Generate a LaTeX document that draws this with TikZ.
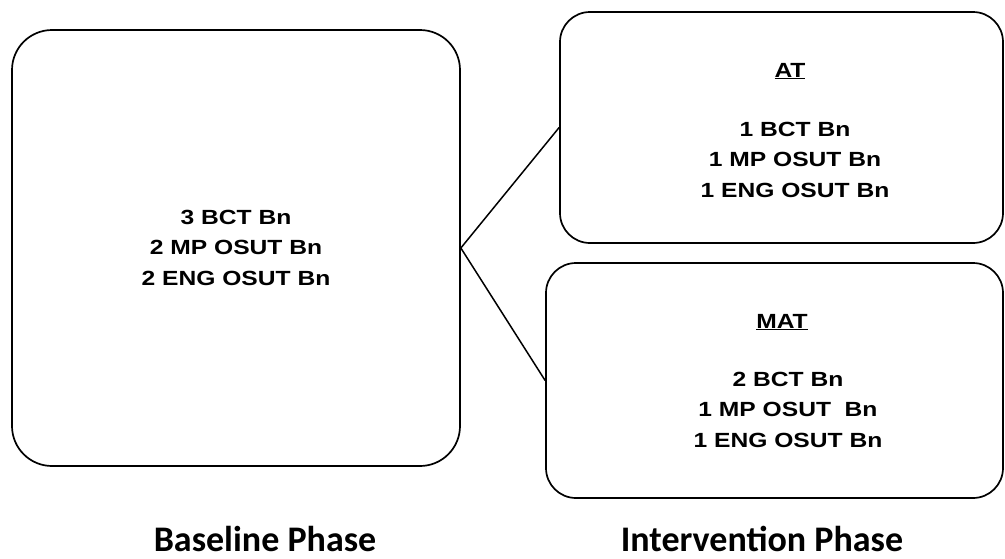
\documentclass[tikz,border=0pt]{standalone}
\usepackage{fontspec}
\setmainfont{Liberation Sans}
\newfontfamily\boxfont[FakeStretch=1.2]{Liberation Sans}
\newfontfamily\phasefont{Carlito}
\begin{document}
\begin{tikzpicture}[x=1pt,y=-1pt,
  phasebox/.style={draw=black,line width=1.7pt,rounded corners=#1,inner sep=0pt},
  unitlist/.style={font=\boxfont\bfseries\fontsize{20.5}{30.5}\selectfont,align=center,anchor=base},
  phaselabel/.style={font=\phasefont\bfseries\fontsize{36}{40}\selectfont,anchor=base,
    inner sep=0pt,text depth=0pt},
  link/.style={line width=1.5pt}]
\useasboundingbox (0,0) rectangle (1005,558);
% phase boxes
\node[phasebox=40pt,minimum width=448pt,minimum height=436pt] (base) at (236,248) {};
\node[phasebox=30pt,minimum width=443pt,minimum height=231pt] (at) at (781.5,127.5) {};
\node[phasebox=30pt,minimum width=457pt,minimum height=235pt] (mat) at (774.5,380.5) {};
% connectors
\draw[link] (base.east) -- (at.west);
\draw[link] (base.east) -- (mat.west);
% unit lists (placed by the baseline of their last line)
\node[unitlist] (basetxt) at (236,285) {3 BCT Bn\\2 MP OSUT Bn\\2 ENG OSUT Bn};
\node[unitlist] (athead) at (790,77) {\underline{AT}};
\node[unitlist] (attxt) at (795,197) {1 BCT Bn\\1 MP OSUT Bn\\1 ENG OSUT Bn};
\node[unitlist] (mathead) at (782,328) {\underline{MAT}};
\node[unitlist] (mattxt) at (788,447) {2 BCT Bn\\1 MP OSUT\ \ Bn\\1 ENG OSUT Bn};
% phase captions
\node[phaselabel] (baselbl) at (265,551) {Baseline Phase};
\node[phaselabel] (intlbl) at (762,551) {Intervention Phase};
\end{tikzpicture}
\end{document}
